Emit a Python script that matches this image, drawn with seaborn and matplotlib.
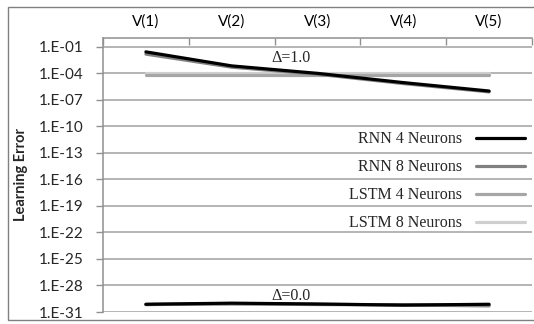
import numpy as np
import pandas as pd
import matplotlib
matplotlib.use("Agg")
import matplotlib.pyplot as plt
import seaborn as sns
from matplotlib.patches import Rectangle
from matplotlib.ticker import FixedLocator, FuncFormatter

sns.set_theme(style="white")
plt.rcParams["font.family"] = ["Lato", "DejaVu Sans"]

# valores
categorias = ["V(1)", "V(2)", "V(3)", "V(4)", "V(5)"]
modelos = ["RNN 4 Neurons", "RNN 8 Neurons", "LSTM 4 Neurons", "LSTM 8 Neurons"]

# delta = 1.0
rnn4_d1 = [2.7e-2, 7e-4, 1.0e-4, 9e-6, 1.0e-6]
rnn8_d1 = [1.5e-2, 5e-4, 8e-5, 7e-6, 8e-7]
lstm4_d1 = [6e-5, 6e-5, 6e-5, 6e-5, 6e-5]
lstm8_d1 = [1.1e-4, 1.1e-4, 1.1e-4, 1.1e-4, 1.1e-4]

# delta = 0.0
rnn4_d0 = [7.5e-31, 1.0e-30, 8e-31, 6e-31, 7.5e-31]
rnn8_d0 = [7e-31, 9e-31, 7.5e-31, 6.5e-31, 6e-31]
lstm4_d0 = [7e-31, 8e-31, 7e-31, 6.5e-31, 5e-31]
lstm8_d0 = [7e-31, 8e-31, 7e-31, 6.5e-31, 4.5e-31]

cores = {"RNN 4 Neurons": "#000000", "RNN 8 Neurons": "#808080",
         "LSTM 4 Neurons": "#a6a6a6", "LSTM 8 Neurons": "#cfcfcf"}

series = {
    ("RNN 4 Neurons", "1.0"): rnn4_d1, ("RNN 8 Neurons", "1.0"): rnn8_d1,
    ("LSTM 4 Neurons", "1.0"): lstm4_d1, ("LSTM 8 Neurons", "1.0"): lstm8_d1,
    ("RNN 4 Neurons", "0.0"): rnn4_d0, ("RNN 8 Neurons", "0.0"): rnn8_d0,
    ("LSTM 4 Neurons", "0.0"): lstm4_d0, ("LSTM 8 Neurons", "0.0"): lstm8_d0,
}
linhas = []
for (modelo, delta), vals in series.items():
    for i, v in enumerate(vals):
        linhas.append({"pos": i, "error": v, "model": modelo, "delta": delta})
df = pd.DataFrame(linhas)

fig = plt.figure(figsize=(5.34, 3.24), dpi=100)
ax = fig.add_axes([103 / 534, 1 - 312 / 324, 429 / 534, 274 / 324])

# borda externa do gráfico
fig.patches.append(Rectangle((8 / 534, 1 - 320 / 324), 1.0, 313 / 324,
                             transform=fig.transFigure, fill=False,
                             edgecolor="#808080", linewidth=1.0))

# desenha na ordem inversa para o RNN 4 ficar por cima
sns.lineplot(data=df, x="pos", y="error", hue="model", units="delta",
             estimator=None, hue_order=modelos[::-1], palette=cores,
             linewidth=2.3, ax=ax, legend=False)

ax.set_yscale("log")
ax.set_ylim(1e-31, 1e0)
ax.set_xlim(-0.5, 4.5)
ax.yaxis.set_major_locator(FixedLocator(10.0 ** np.arange(-31, 0, 3)))
ax.yaxis.set_minor_locator(FixedLocator([]))
ax.yaxis.set_major_formatter(FuncFormatter(lambda v, p: f"1.E-{abs(int(round(np.log10(v)))):02d}"))
ax.grid(axis="y", color="#a0a0a0", linewidth=1.1)
ax.set_axisbelow(True)

ax.xaxis.tick_top()
ax.set_xticks(range(5))
ax.set_xticklabels(categorias)
ax.set_xticks(np.arange(-0.5, 5, 1), minor=True)
ax.tick_params(axis="x", which="major", length=0, pad=7, labelsize=11, colors="black")
ax.tick_params(axis="x", which="minor", length=5, direction="in", color="#909090", width=1)
ax.tick_params(axis="y", which="major", length=5, direction="out", color="#909090",
               width=1, pad=9, labelsize=11, left=True)

for lado in ["left", "top"]:
    ax.spines[lado].set_color("#909090")
    ax.spines[lado].set_linewidth(1.1)
for lado in ["right", "bottom"]:
    ax.spines[lado].set_visible(False)

ax.set_xlabel("")
ax.set_ylabel("Learning Error", fontsize=10.5, fontweight="bold", labelpad=8)

ax.text(1.686, 5e-3, "Δ=1.0", ha="center", va="center", fontsize=11.5,
        family="Liberation Serif")
ax.text(1.686, 6e-30, "Δ=0.0", ha="center", va="center", fontsize=11.5,
        family="Liberation Serif")

handles = [plt.Line2D([], [], color=cores[m], linewidth=2.3) for m in modelos]
ax.legend(handles, modelos, loc="upper right", bbox_to_anchor=(0.984, 0.66),
          frameon=False, markerfirst=False, handlelength=3.1, handletextpad=0.85,
          labelspacing=0.75, borderpad=0, borderaxespad=0,
          prop={"family": "Liberation Serif", "size": 11.5})

fig.savefig("out.png", dpi=100)
